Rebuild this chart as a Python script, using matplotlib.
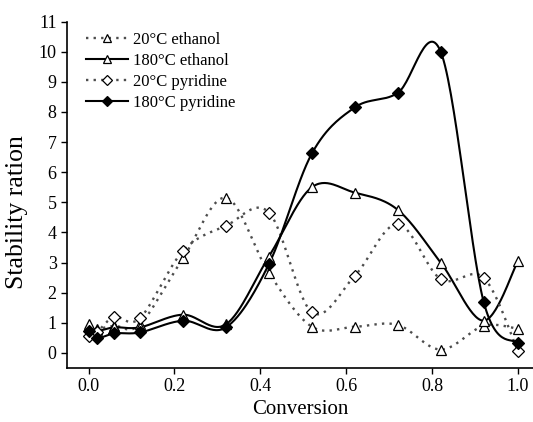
import numpy as np
import matplotlib
matplotlib.use("Agg")
import matplotlib.pyplot as plt

# ---------- data ----------
conversion = [0.0, 0.02, 0.06, 0.12, 0.22, 0.32, 0.42, 0.52, 0.62, 0.72, 0.82, 0.92, 1.0]

ethanol_20 = [0.9, 0.8, 0.9, 0.95, 3.15, 5.15, 2.65, 0.87, 0.87, 0.93, 0.11, 0.9, 0.8]
ethanol_180 = [0.95, 0.74, 0.85, 0.85, 1.27, 0.95, 3.2, 5.5, 5.32, 4.75, 3.0, 1.07, 3.05]
pyridine_20 = [0.55, 0.7, 1.2, 1.16, 3.39, 4.22, 4.66, 1.35, 2.56, 4.28, 2.45, 2.5, 0.05]
pyridine_180 = [0.72, 0.49, 0.65, 0.68, 1.07, 0.85, 2.95, 6.62, 8.15, 8.63, 10.0, 1.7, 0.32]

labels = ["20°C ethanol", "180°C ethanol", "20°C pyridine", "180°C pyridine"]


def smooth(xs, ys, n=30):
    # Catmull-Rom through the points (like a spreadsheet "smoothed line")
    p = np.column_stack([xs, ys]).astype(float)
    p = np.vstack([p[0], p, p[-1]])
    t = np.linspace(0, 1, n, endpoint=False)[:, None]
    out = []
    for i in range(1, len(p) - 2):
        p0, p1, p2, p3 = p[i - 1], p[i], p[i + 1], p[i + 2]
        seg = 0.5 * ((2 * p1) + (-p0 + p2) * t
                     + (2 * p0 - 5 * p1 + 4 * p2 - p3) * t ** 2
                     + (-p0 + 3 * p1 - 3 * p2 + p3) * t ** 3)
        out.append(seg)
    out.append(p[-2][None, :])
    out = np.vstack(out)
    return out[:, 0], out[:, 1]


plt.rcParams['font.family'] = ['Liberation Serif', 'DejaVu Serif']

fig = plt.figure(figsize=(5.33, 4.22), dpi=100)
ax = fig.add_axes([0.126, 0.128, 0.874, 0.821])

dotted = (0, (1, 2.2))
styles = [
    dict(ls=dotted, marker='^', mfc='white', ms=6.5),
    dict(ls='-', marker='^', mfc='white', ms=6.5),
    dict(ls=dotted, marker='D', mfc='white', ms=6),
    dict(ls='-', marker='D', mfc='black', ms=6),
]
series = [ethanol_20, ethanol_180, pyridine_20, pyridine_180]

handles = []
for ys, st, lab in zip(series, styles, labels):
    solid = st['ls'] == '-'
    lw = 1.5 if solid else 1.7
    col = 'black' if solid else '0.3'
    sx, sy = smooth(conversion, ys)
    ax.plot(sx, sy, ls=st['ls'], color=col, lw=lw)
    ax.plot(conversion, ys, ls='none', marker=st['marker'], mfc=st['mfc'],
            mec='black', mew=0.9, ms=st['ms'], zorder=3)
    h, = ax.plot([], [], ls=st['ls'], color=col, lw=lw, mfc=st['mfc'],
                 marker=st['marker'], mec='black', mew=0.9, ms=st['ms'] - 1)
    handles.append(h)

ax.set_xlim(-0.05, 1.035)
ax.set_ylim(-0.5, 11)
ax.set_xticks([0.0, 0.2, 0.4, 0.6, 0.8, 1.0])
ax.set_yticks(range(0, 12))
ax.set_xticklabels(['0.0', '0.2', '0.4', '0.6', '0.8', '1.0'])
ax.spines['top'].set_visible(False)
ax.spines['right'].set_visible(False)
ax.spines['left'].set_linewidth(1.2)
ax.spines['bottom'].set_linewidth(1.2)
ax.tick_params(direction='out', length=4, width=1, labelsize=13)

ax.set_xlabel('Conversion', fontsize=15, labelpad=3)
ax.set_ylabel('Stability ration', fontsize=18.5)
ax.yaxis.set_label_coords(-0.085, 0.45)

ax.legend(handles, labels, loc='upper left', bbox_to_anchor=(0.02, 1.0),
          frameon=False, fontsize=12, handlelength=2.5, handletextpad=0.3,
          labelspacing=0.3, borderaxespad=0.2)

fig.savefig('out.png', dpi=100)
